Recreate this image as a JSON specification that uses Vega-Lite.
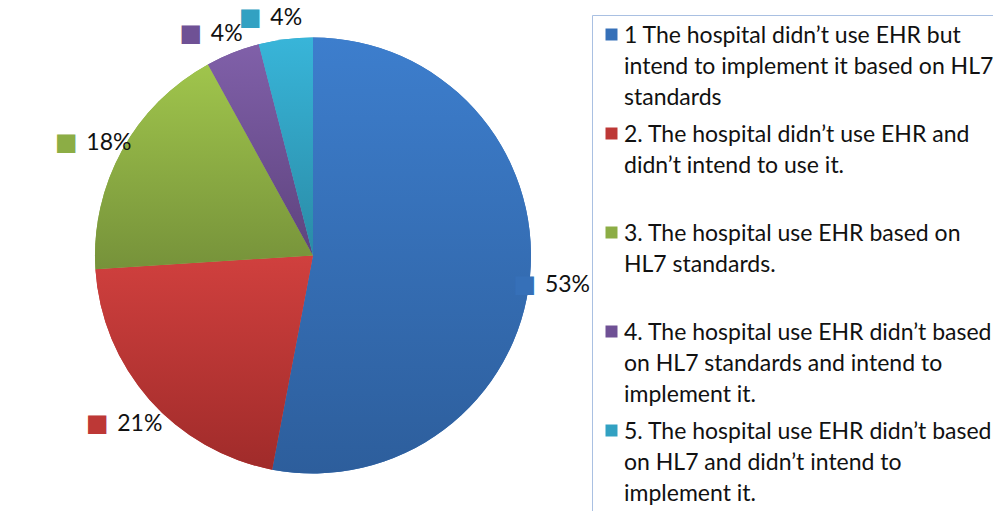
{
  "$schema": "https://vega.github.io/schema/vega-lite/v6.json",
  "width": 626,
  "height": 511,
  "padding": 0,
  "autosize": {"type": "pad"},
  "background": "white",
  "view": {"stroke": null},
  "data": {
    "values": [
      {"response": "1 The hospital didn’t use EHR but\nintend to implement it based on HL7\nstandards", "rank": 1, "share": 0.53},
      {"response": "2. The hospital didn’t use EHR and\ndidn’t intend to use it.\n", "rank": 2, "share": 0.21},
      {"response": "\u00a03. The hospital use EHR based on\nHL7 standards.\n", "rank": 3, "share": 0.18},
      {"response": "\u00a04. The hospital use EHR didn’t based\non HL7 standards and intend to\nimplement it.", "rank": 4, "share": 0.04},
      {"response": "5. The hospital use EHR didn’t based\non HL7 and didn’t intend to\nimplement it.", "rank": 5, "share": 0.04}
    ]
  },
  "layer": [
    {
      "mark": {"type": "arc", "outerRadius": 218},
      "encoding": {
        "theta": {"field": "share", "type": "quantitative", "stack": true},
        "order": {"field": "rank", "type": "quantitative"},
        "color": {
          "field": "response",
          "type": "nominal",
          "sort": null,
          "scale": {"range": ["#3670b8", "#bd3836", "#8cad45", "#6f5195", "#32a1c2"]},
          "legend": {
            "orient": "none",
            "legendX": 592,
            "legendY": 15,
            "title": null,
            "symbolType": "square",
            "symbolSize": 144,
            "symbolStrokeWidth": 0,
            "labelFont": "Lato",
            "labelFontSize": 23,
            "labelColor": "#111111",
            "labelExpr": "split(datum.label, '\\n')",
            "labelLimit": 372,
            "labelOffset": 1,
            "labelBaseline": "top",
            "strokeColor": "#a9c0e2",
            "fillColor": "white",
            "padding": 8,
            "rowPadding": 12,
            "encode": {
              "labels": {"update": {"lineHeight": {"value": 31}, "dy": {"value": -10}}}
            }
          }
        }
      }
    },
    {
      "transform": [
        {"stack": "share", "groupby": [], "sort": [{"field": "rank"}], "as": ["s0", "s1"]},
        {"filter": "datum.rank == 1"}
      ],
      "mark": {"type": "arc", "outerRadius": 218, "fill": {"gradient": "linear", "x1": 0, "y1": 0, "x2": 0, "y2": 1, "stops": [{"offset": 0, "color": "#3d7ecd"}, {"offset": 1, "color": "#2d5e9c"}]}},
      "encoding": {
        "theta": {"field": "s0", "type": "quantitative"},
        "theta2": {"field": "s1"}
      }
    },
    {
      "transform": [
        {"stack": "share", "groupby": [], "sort": [{"field": "rank"}], "as": ["s0", "s1"]},
        {"filter": "datum.rank == 2"}
      ],
      "mark": {"type": "arc", "outerRadius": 218, "fill": {"gradient": "linear", "x1": 0, "y1": 0, "x2": 0, "y2": 1, "stops": [{"offset": 0, "color": "#d0403e"}, {"offset": 1, "color": "#a02b2a"}]}},
      "encoding": {
        "theta": {"field": "s0", "type": "quantitative"},
        "theta2": {"field": "s1"}
      }
    },
    {
      "transform": [
        {"stack": "share", "groupby": [], "sort": [{"field": "rank"}], "as": ["s0", "s1"]},
        {"filter": "datum.rank == 3"}
      ],
      "mark": {"type": "arc", "outerRadius": 218, "fill": {"gradient": "linear", "x1": 0, "y1": 0, "x2": 0, "y2": 1, "stops": [{"offset": 0, "color": "#a0c54c"}, {"offset": 1, "color": "#76923a"}]}},
      "encoding": {
        "theta": {"field": "s0", "type": "quantitative"},
        "theta2": {"field": "s1"}
      }
    },
    {
      "transform": [
        {"stack": "share", "groupby": [], "sort": [{"field": "rank"}], "as": ["s0", "s1"]},
        {"filter": "datum.rank == 4"}
      ],
      "mark": {"type": "arc", "outerRadius": 218, "fill": {"gradient": "linear", "x1": 0, "y1": 0, "x2": 0, "y2": 1, "stops": [{"offset": 0, "color": "#8060a9"}, {"offset": 1, "color": "#5e437e"}]}},
      "encoding": {
        "theta": {"field": "s0", "type": "quantitative"},
        "theta2": {"field": "s1"}
      }
    },
    {
      "transform": [
        {"stack": "share", "groupby": [], "sort": [{"field": "rank"}], "as": ["s0", "s1"]},
        {"filter": "datum.rank == 5"}
      ],
      "mark": {"type": "arc", "outerRadius": 218, "fill": {"gradient": "linear", "x1": 0, "y1": 0, "x2": 0, "y2": 1, "stops": [{"offset": 0, "color": "#38b5d9"}, {"offset": 1, "color": "#2a8ba6"}]}},
      "encoding": {
        "theta": {"field": "s0", "type": "quantitative"},
        "theta2": {"field": "s1"}
      }
    },
    {
      "mark": {"type": "text", "radius": 245, "text": "■", "fontSize": 24, "font": "DejaVu Sans", "dx": -32, "dy": 6, "baseline": "middle", "align": "center"},
      "encoding": {
        "theta": {"field": "share", "type": "quantitative", "stack": true},
        "order": {"field": "rank", "type": "quantitative"},
        "color": {"field": "response", "type": "nominal", "sort": null}
      }
    },
    {
      "mark": {"type": "text", "radius": 245, "font": "Lato", "fontSize": 23, "dx": -12, "dy": 6, "align": "left", "baseline": "middle", "color": "#111111"},
      "encoding": {
        "theta": {"field": "share", "type": "quantitative", "stack": true},
        "order": {"field": "rank", "type": "quantitative"},
        "text": {"field": "share", "type": "quantitative", "format": ".0%"}
      }
    }
  ]
}
